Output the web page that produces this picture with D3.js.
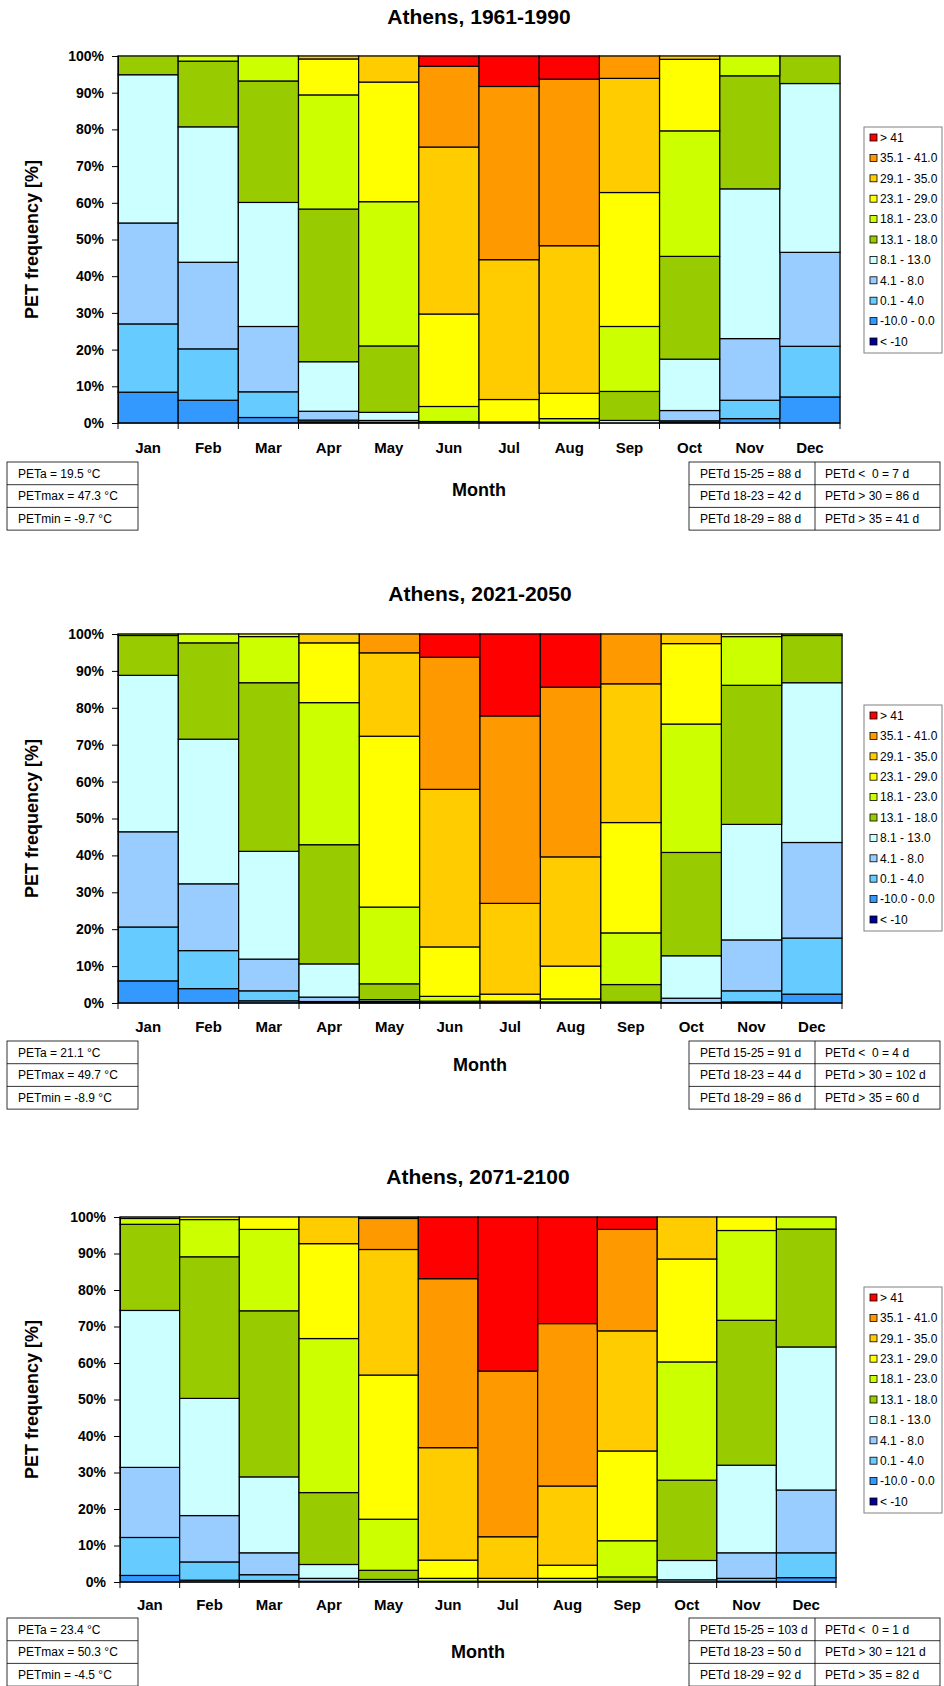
<!DOCTYPE html>
<html>
<head>
<meta charset="utf-8">
<script src="https://cdn.jsdelivr.net/npm/d3@7"></script>
<style>
body { margin: 0; background: #fff; }
svg { display: block; font-family: "Liberation Sans", Arial, sans-serif; }
</style>
</head>
<body>
<svg id="chart" width="944" height="1686"></svg>
<script>
// months on the x axis
const months = ["Jan", "Feb", "Mar", "Apr", "May", "Jun", "Jul", "Aug", "Sep", "Oct", "Nov", "Dec"];

// PET classes, bottom of the stack first
const petClasses = ["< -10", "-10.0 - 0.0", "0.1 - 4.0", "4.1 - 8.0", "8.1 - 13.0", "13.1 - 18.0",
                    "18.1 - 23.0", "23.1 - 29.0", "29.1 - 35.0", "35.1 - 41.0", "> 41"];
const classColors = ["#000099", "#3399ff", "#66ccff", "#99ccff", "#ccffff", "#99cc00",
                     "#ccff00", "#ffff00", "#ffcc00", "#ff9900", "#ff0000"];

const yTicks = [0, 10, 20, 30, 40, 50, 60, 70, 80, 90, 100];

const titles = ["Athens, 1961-1990", "Athens, 2021-2050", "Athens, 2071-2100"];

// frequency [%] per month, one value per class (bottom to top)
const pet1961 = [
  [0, 8.4, 18.6, 27.5, 40.4, 5.1, 0, 0, 0, 0, 0],
  [0, 6.2, 14.0, 23.6, 36.9, 17.9, 1.4, 0, 0, 0, 0],
  [0, 1.5, 7.0, 17.8, 33.8, 33.1, 6.8, 0, 0, 0, 0],
  [0, 0.3, 0.5, 2.4, 13.5, 41.6, 31.1, 9.8, 0.8, 0, 0],
  [0, 0.1, 0.1, 0.5, 2.2, 18.1, 39.3, 32.6, 7.1, 0, 0],
  [0, 0, 0, 0, 0, 0.4, 4.1, 25.2, 45.5, 22.0, 2.8],
  [0, 0, 0, 0, 0, 0, 0.3, 6.1, 38.1, 47.2, 8.3],
  [0, 0, 0, 0, 0, 0.2, 1.0, 6.9, 40.2, 45.4, 6.3],
  [0, 0, 0, 0, 0.7, 7.9, 17.7, 36.5, 31.1, 6.1, 0],
  [0, 0.2, 0.4, 2.8, 14.0, 28.0, 34.2, 19.5, 0.9, 0, 0],
  [0, 1.2, 5.0, 16.8, 40.8, 30.8, 5.4, 0, 0, 0, 0],
  [0, 7.1, 13.8, 25.6, 46.0, 7.5, 0, 0, 0, 0, 0]
];

const pet2021 = [
  [0, 6.0, 14.6, 25.8, 42.4, 10.8, 0.4, 0, 0, 0, 0],
  [0, 3.9, 10.3, 18.1, 39.2, 26.1, 2.4, 0, 0, 0, 0],
  [0, 0.6, 2.7, 8.6, 29.2, 45.7, 12.5, 0.7, 0, 0, 0],
  [0, 0.1, 0.3, 1.2, 9.0, 32.3, 38.5, 16.2, 2.4, 0, 0],
  [0, 0.1, 0.1, 0.2, 0.5, 4.3, 20.8, 46.3, 22.6, 5.1, 0],
  [0, 0, 0, 0, 0.1, 0.4, 1.3, 13.4, 42.7, 35.8, 6.3],
  [0, 0, 0, 0, 0, 0.1, 0.4, 1.9, 24.6, 50.8, 22.2],
  [0, 0, 0, 0, 0, 0.3, 0.8, 8.9, 29.6, 46.0, 14.4],
  [0, 0, 0, 0, 0.3, 4.7, 14.0, 29.9, 37.6, 13.5, 0],
  [0, 0, 0.1, 1.2, 11.5, 28.0, 34.8, 21.8, 2.6, 0, 0],
  [0, 0.3, 3.0, 13.8, 31.3, 37.7, 13.2, 0.7, 0, 0, 0],
  [0, 2.4, 15.2, 25.9, 43.3, 12.8, 0.4, 0, 0, 0, 0]
];

const pet2071 = [
  [0, 1.8, 10.4, 19.2, 43.0, 23.6, 1.6, 0.4, 0, 0, 0],
  [0, 0.5, 5.0, 12.7, 32.1, 38.8, 10.2, 0.7, 0, 0, 0],
  [0, 0.4, 1.6, 6.0, 20.8, 45.5, 22.3, 3.4, 0, 0, 0],
  [0, 0, 0.2, 0.8, 3.8, 19.7, 42.2, 26.0, 7.3, 0, 0],
  [0, 0, 0, 0.2, 0.5, 2.5, 14.0, 39.5, 34.4, 8.5, 0.4],
  [0, 0, 0, 0, 0, 0.2, 0.8, 5.0, 30.8, 46.3, 16.9],
  [0, 0, 0, 0, 0, 0, 0.2, 0.8, 11.4, 45.4, 42.2],
  [0, 0, 0, 0, 0, 0.2, 0.8, 3.6, 21.7, 44.5, 29.2],
  [0, 0, 0, 0, 0.2, 1.2, 9.9, 24.6, 32.9, 27.8, 3.4],
  [0, 0, 0, 0.6, 5.3, 22.0, 32.4, 28.2, 11.5, 0, 0],
  [0, 0.2, 0.8, 7.0, 24.0, 39.7, 24.6, 3.7, 0, 0, 0],
  [0, 1.2, 6.8, 17.2, 39.2, 32.3, 3.3, 0, 0, 0, 0]
];

// statistics boxes
const statsLeft1961 = ["PETa = 19.5 °C", "PETmax = 47.3 °C", "PETmin = -9.7 °C"];
const statsLeft2021 = ["PETa = 21.1 °C", "PETmax = 49.7 °C", "PETmin = -8.9 °C"];
const statsLeft2071 = ["PETa = 23.4 °C", "PETmax = 50.3 °C", "PETmin = -4.5 °C"];

const statsRight1961 = [["PETd 15-25 = 88 d", "PETd <  0 = 7 d"], ["PETd 18-23 = 42 d", "PETd > 30 = 86 d"], ["PETd 18-29 = 88 d", "PETd > 35 = 41 d"]];
const statsRight2021 = [["PETd 15-25 = 91 d", "PETd <  0 = 4 d"], ["PETd 18-23 = 44 d", "PETd > 30 = 102 d"], ["PETd 18-29 = 86 d", "PETd > 35 = 60 d"]];
const statsRight2071 = [["PETd 15-25 = 103 d", "PETd <  0 = 1 d"], ["PETd 18-23 = 50 d", "PETd > 30 = 121 d"], ["PETd 18-29 = 92 d", "PETd > 35 = 82 d"]];

const panels = [
  {title: titles[0], data: pet1961, left: statsLeft1961, right: statsRight1961,
   x0: 118, x1: 840, y0: 56, y1: 423, titleY: 17, monthY: 448, axisY: 490, boxY: 462, legendY: 127},
  {title: titles[1], data: pet2021, left: statsLeft2021, right: statsRight2021,
   x0: 118, x1: 842, y0: 634, y1: 1003, titleY: 594, monthY: 1027, axisY: 1065, boxY: 1041, legendY: 705},
  {title: titles[2], data: pet2071, left: statsLeft2071, right: statsRight2071,
   x0: 120, x1: 836, y0: 1217, y1: 1582, titleY: 1177, monthY: 1605, axisY: 1652, boxY: 1618, legendY: 1287}
];

const svg = d3.select("#chart");
const keys = d3.range(petClasses.length);

function drawPanel(p) {
  const g = svg.append("g");

  const x = d3.scaleBand().domain(months).range([p.x0, p.x1]).padding(0);
  const y = d3.scaleLinear().domain([0, 100]).range([p.y1, p.y0]);

  // title
  g.append("text")
    .attr("x", (p.x0 + p.x1) / 2)
    .attr("y", p.titleY)
    .attr("dy", "0.35em")
    .attr("text-anchor", "middle")
    .attr("font-size", "21px")
    .attr("font-weight", "bold")
    .text(p.title);

  // plot area frame
  g.append("rect")
    .attr("x", p.x0).attr("y", p.y0)
    .attr("width", p.x1 - p.x0).attr("height", p.y1 - p.y0)
    .attr("fill", "none").attr("stroke", "#808080");

  // stacked bars
  const rows = p.data.map((vals, i) => {
    const o = {month: months[i]};
    vals.forEach((v, k) => o[k] = v);
    return o;
  });
  const stacked = d3.stack().keys(keys)(rows);

  stacked.forEach(layer => {
    g.append("g")
      .selectAll("rect")
      .data(layer.filter(d => d[1] - d[0] > 0))
      .join("rect")
        .attr("x", d => x(d.data.month))
        .attr("width", x.bandwidth())
        .attr("y", d => y(d[1]))
        .attr("height", d => y(d[0]) - y(d[1]))
        .attr("fill", classColors[layer.key])
        .attr("stroke", "#000")
        .attr("stroke-width", 1.2);
  });

  // y axis
  const yAxis = g.append("g")
    .attr("transform", `translate(${p.x0},0)`)
    .call(d3.axisLeft(y).tickValues(yTicks).tickFormat(d => d + "%").tickSize(6).tickPadding(8));
  yAxis.select(".domain").attr("stroke", "#000");
  yAxis.selectAll("text").attr("font-size", "14px").attr("font-weight", "bold")
    .attr("font-family", "Liberation Sans, Arial, sans-serif").attr("fill", "#000");

  // x axis: ticks at bar boundaries
  g.append("line")
    .attr("x1", p.x0).attr("x2", p.x1)
    .attr("y1", p.y1).attr("y2", p.y1)
    .attr("stroke", "#000");
  const edges = months.map(m => x(m)).concat([p.x1]);
  g.append("g").selectAll("line")
    .data(edges)
    .join("line")
      .attr("x1", d => d).attr("x2", d => d)
      .attr("y1", p.y1).attr("y2", p.y1 + 6)
      .attr("stroke", "#000");
  g.append("g").selectAll("text")
    .data(months)
    .join("text")
      .attr("x", d => x(d) + x.bandwidth() / 2)
      .attr("y", p.monthY)
      .attr("dy", "0.35em")
      .attr("text-anchor", "middle")
      .attr("font-size", "15px")
      .attr("font-weight", "bold")
      .text(d => d);

  // axis titles
  g.append("text")
    .attr("transform", `translate(32,${(p.y0 + p.y1) / 2}) rotate(-90)`)
    .attr("dy", "0.35em")
    .attr("text-anchor", "middle")
    .attr("font-size", "18px")
    .attr("font-weight", "bold")
    .text("PET frequency [%]");

  g.append("text")
    .attr("x", (p.x0 + p.x1) / 2)
    .attr("y", p.axisY)
    .attr("dy", "0.35em")
    .attr("text-anchor", "middle")
    .attr("font-size", "18px")
    .attr("font-weight", "bold")
    .text("Month");

  // legend, top class first
  const lg = g.append("g");
  const legendOrder = keys.slice().reverse();
  lg.append("rect")
    .attr("x", 864).attr("y", p.legendY)
    .attr("width", 78).attr("height", 226)
    .attr("fill", "#fff").attr("stroke", "#808080");
  const item = lg.selectAll("g")
    .data(legendOrder)
    .join("g")
      .attr("transform", (d, i) => `translate(870,${p.legendY + 10.5 + i * 20.4})`);
  item.append("rect")
    .attr("x", 0).attr("y", -3.5)
    .attr("width", 7).attr("height", 7)
    .attr("fill", d => classColors[d])
    .attr("stroke", "#000").attr("stroke-width", 0.8);
  item.append("text")
    .attr("x", 10)
    .attr("dy", "0.35em")
    .attr("font-size", "12px")
    .text(d => petClasses[d]);

  // statistics boxes
  const rowH = 22.7;
  const lb = g.append("g");
  lb.append("rect")
    .attr("x", 7).attr("y", p.boxY)
    .attr("width", 131).attr("height", rowH * 3)
    .attr("fill", "#fff").attr("stroke", "#000").attr("stroke-width", 0.8);
  lb.selectAll("line")
    .data([1, 2])
    .join("line")
      .attr("x1", 7).attr("x2", 138)
      .attr("y1", d => p.boxY + d * rowH).attr("y2", d => p.boxY + d * rowH)
      .attr("stroke", "#000").attr("stroke-width", 0.8);
  lb.selectAll("text")
    .data(p.left)
    .join("text")
      .attr("x", 18)
      .attr("y", (d, i) => p.boxY + (i + 0.5) * rowH)
      .attr("dy", "0.35em")
      .attr("font-size", "12px")
      .text(d => d);

  const rb = g.append("g");
  rb.append("rect")
    .attr("x", 689).attr("y", p.boxY)
    .attr("width", 251).attr("height", rowH * 3)
    .attr("fill", "#fff").attr("stroke", "#000").attr("stroke-width", 0.8);
  rb.selectAll("line.h")
    .data([1, 2])
    .join("line")
      .attr("class", "h")
      .attr("x1", 689).attr("x2", 940)
      .attr("y1", d => p.boxY + d * rowH).attr("y2", d => p.boxY + d * rowH)
      .attr("stroke", "#000").attr("stroke-width", 0.8);
  rb.append("line")
    .attr("x1", 815).attr("x2", 815)
    .attr("y1", p.boxY).attr("y2", p.boxY + rowH * 3)
    .attr("stroke", "#000").attr("stroke-width", 0.8);
  p.right.forEach((row, i) => {
    row.forEach((t, j) => {
      rb.append("text")
        .attr("x", j === 0 ? 700 : 825)
        .attr("y", p.boxY + (i + 0.5) * rowH)
        .attr("dy", "0.35em")
        .attr("font-size", "12px")
        .style("white-space", "pre")
        .text(t);
    });
  });
}

panels.forEach(drawPanel);
</script>
</body>
</html>
